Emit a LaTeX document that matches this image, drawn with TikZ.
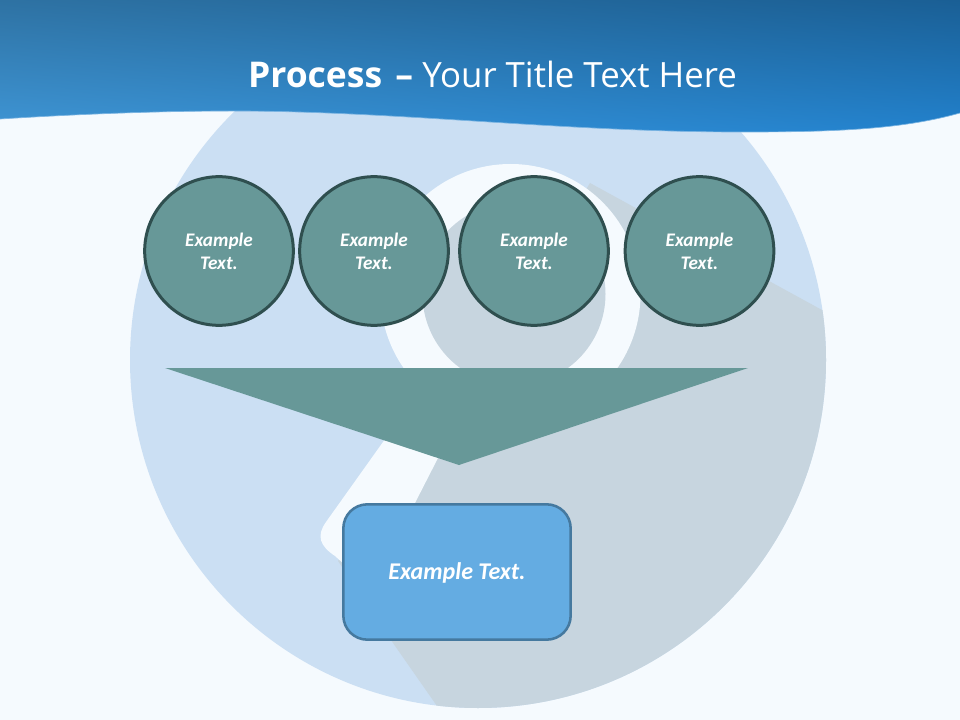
\documentclass[tikz,border=0pt]{standalone}
\usepackage{fontspec}
\setmainfont{Carlito}
\newfontfamily\titlefont{Open Sans}
\usetikzlibrary{shapes.geometric,shadings}
\definecolor{bgc}{HTML}{F5FAFE}
\definecolor{bigc}{HTML}{CBDFF3}
\definecolor{shadowc}{HTML}{C7D5DF}
\definecolor{tealc}{HTML}{679898}
\definecolor{tealline}{HTML}{2F4F4F}
\definecolor{boxc}{HTML}{64ACE2}
\definecolor{boxline}{HTML}{45799F}
\definecolor{hTL}{HTML}{2E72A3}
\definecolor{hTR}{HTML}{1A5F95}
\definecolor{hBL}{HTML}{3F96D6}
\definecolor{hBR}{HTML}{2282CE}
\tikzset{
  x=0.75pt,y=-0.75pt,
  disc/.style={circle,draw=tealline,fill=tealc,line width=2.25pt,minimum size=111.5pt,inner sep=0pt,
    text=white,align=center,font=\fontsize{14.4}{17.2}\selectfont\bfseries\itshape},
  resultbox/.style={rectangle,rounded corners=18pt,draw=boxline,fill=boxc,line width=1.9pt,
    minimum width=170.5pt,minimum height=101.5pt,inner sep=0pt,text height=14pt,text depth=3.2pt,
    text=white,font=\fontsize{18}{21}\selectfont\bfseries\itshape},
  titletext/.style={text=white,inner sep=0pt,anchor=base,font=\titlefont\fontsize{26.6}{30}\selectfont},
}
\begin{document}
\begin{tikzpicture}
\useasboundingbox (0,0) rectangle (960,720);
\fill[bgc] (0,0) rectangle (960,720);
\fill[bigc] (478,360) circle [radius=348];
\begin{scope}
  \clip (478,360) circle [radius=348];
  \fill[shadowc] (590,183) -- (822,310) -- (1000,420) -- (1000,800) -- (495,800) -- (437,706) -- (393,643) -- (338,561) -- (420,470) -- cycle;
\end{scope}
\fill[bgc] (510.5,294) circle [radius=130];
\fill[bgc] (400,418) -- (383,442) -- (326,522)
  .. controls (316,536) and (320,546) .. (335,556)
  -- (345,565) -- (360,570) -- (415,503) -- (438,458) -- (470,410) -- cycle;
\fill[shadowc] (514,294) circle [radius=91.5];
\begin{scope}
  \clip (0,0) -- (0,119) .. controls (80,114) and (160,111) .. (232,111)
    .. controls (400,111) and (560,132) .. (741,132)
    .. controls (830,132) and (900,130) .. (960,113) -- (960,0) -- cycle;
  \shade[upper left=hTL,upper right=hTR,lower left=hBL,lower right=hBR] (0,0) rectangle (960,133);
\end{scope}
\draw[line width=0.5pt,color=hBR!60!white] (0,119) .. controls (80,114) and (160,111) .. (232,111)
    .. controls (400,111) and (560,132) .. (741,132)
    .. controls (830,132) and (900,130) .. (960,113);
\node[titletext] (title) at (492.5,88) {\textbf{Process\kern3pt{} –} {\fontsize{26.1}{30}\selectfont Your Title Text Here}};
\node[disc] (c1) at (219,251) {Example\\Text.};
\node[disc] (c2) at (374,251) {Example\\Text.};
\node[disc] (c3) at (534,251) {Example\\Text.};
\node[disc] (c4) at (699.5,251) {Example\\Text.};
\fill[tealc] (165,368) -- (748,368) -- (459,465) -- cycle;
\node[resultbox] (box) at (457,572) {Example Text.};
\end{tikzpicture}
\end{document}
